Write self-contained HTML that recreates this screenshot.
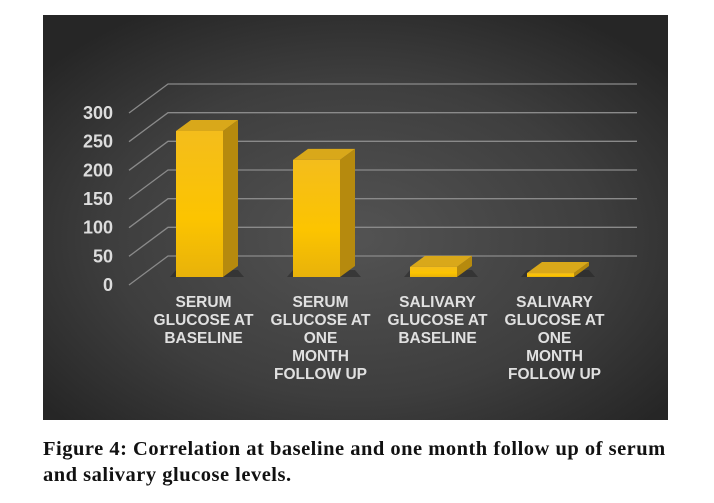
<!DOCTYPE html>
<html><head><meta charset="utf-8"><style>
body{margin:0;background:#fff;width:714px;height:503px;overflow:hidden}
.cap{position:absolute;left:43px;top:436px;font:bold 20.5px "Liberation Serif",serif;letter-spacing:0.5px;color:#111;line-height:26px;white-space:nowrap}
</style></head><body>
<svg width="714" height="430" style="position:absolute;left:0;top:0">
<defs>
<radialGradient id="bg" cx="0.5" cy="0.55" r="0.65">
<stop offset="0" stop-color="#535353"/><stop offset="0.6" stop-color="#3e3e3e"/><stop offset="1" stop-color="#262626"/></radialGradient>
<linearGradient id="front" x1="0" y1="0" x2="0" y2="1"><stop offset="0" stop-color="#f4bd1c"/><stop offset="0.6" stop-color="#fcc400"/><stop offset="1" stop-color="#e8b20a"/></linearGradient>
</defs>
<rect x="43" y="15" width="625" height="405" fill="url(#bg)"/>
<g id="grid"></g><g id="bars"></g><g id="labels"></g>
</svg>
<div class="cap">Figure 4: Correlation at baseline and one month follow up of serum<br>and salivary glucose levels.</div>
<script>
const categories=[["SERUM","GLUCOSE AT","BASELINE"],["SERUM","GLUCOSE AT","ONE","MONTH","FOLLOW UP"],["SALIVARY","GLUCOSE AT","BASELINE"],["SALIVARY","GLUCOSE AT","ONE","MONTH","FOLLOW UP"]];
const values=[258,207,18,7];
const ticks=[0,50,100,150,200,250,300];
const NS="http://www.w3.org/2000/svg";
function mk(t,a,p){const e=document.createElementNS(NS,t);for(const k in a)e.setAttribute(k,a[k]);p.appendChild(e);return e;}
const backY=v=>256-v*(172/300);
const barY=v=>277-v*(146/258);
const barX=i=>176+i*117;
const g=document.getElementById('grid');
ticks.forEach(t=>{
 const y=backY(t);
 const l=mk('polyline',{points:`129,${y+29} 168,${y} 637,${y}`,fill:'none',stroke:'#8a8a8a','stroke-width':1.3},g);
 
 
 const tx=mk('text',{x:113,y:y+29+6,'text-anchor':'end',fill:'#dcdcdc','font-family':'Liberation Sans, sans-serif','font-size':18,'font-weight':'bold'},g);
 tx.textContent=t;
 
 
});
const b=document.getElementById('bars');
const W=47,DX=15,DY=11;
values.forEach((v,i)=>{
 const x=barX(i),y=barY(v),y0=barY(0);
 const grp=mk('g',{},b);
 
 
 mk('polygon',{points:`${x-6},${y0} ${x+W+DX+6},${y0} ${x+W+DX},${y0-DY+4} ${x},${y0-DY+4}`,fill:'#1e1e1e',opacity:0.45},grp);
 mk('polygon',{points:`${x+W},${y} ${x+W+DX},${y-DY} ${x+W+DX},${y0-DY} ${x+W},${y0}`,fill:'#b68a0e'},grp);
 mk('polygon',{points:`${x},${y} ${x+DX},${y-DY} ${x+W+DX},${y-DY} ${x+W},${y}`,fill:'#d9a81a'},grp);
 mk('rect',{x:x,y:y,width:W,height:y0-y,fill:'url(#front)'},grp);
});
const L=document.getElementById('labels');
categories.forEach((c,i)=>{
 const cx=barX(i)+W/2+4;
 const t=mk('text',{x:cx,y:307,'text-anchor':'middle',fill:'#e0e0e0','font-family':'Liberation Sans, sans-serif','font-size':15.5,'font-weight':'bold'},L);
 
 
 c.forEach((s,j)=>{const ts=mk('tspan',{x:cx,dy:j?18:0},t);ts.textContent=s;});
});
</script>
</body></html>
